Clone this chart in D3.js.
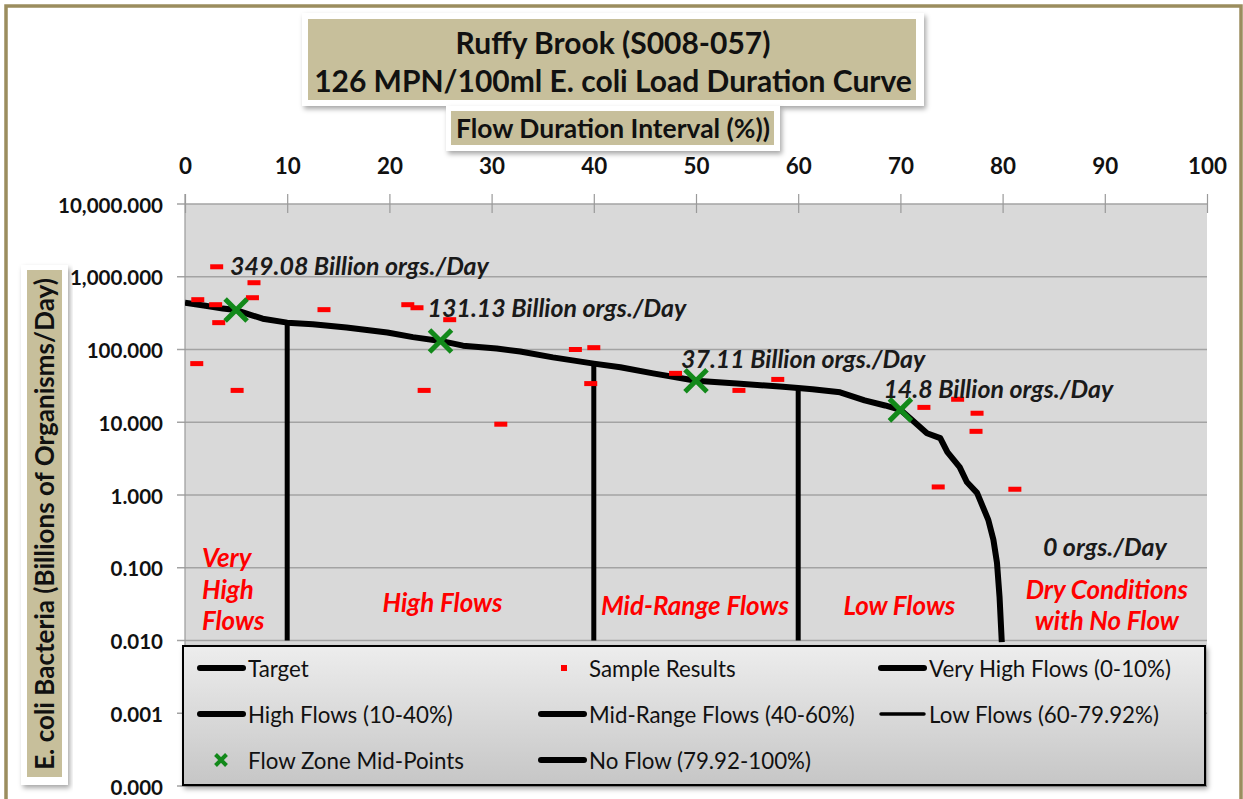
<!DOCTYPE html>
<html><head><meta charset="utf-8">
<script src="https://cdn.jsdelivr.net/npm/d3@7"></script>
<style>
body{margin:0;background:#fff;}
svg{display:block;}
text{font-family:Lato,"Open Sans","DejaVu Sans",sans-serif;}
</style>
</head><body>
<svg id="c" width="1243" height="799"></svg>
<script>
// ---------------- DATA ----------------
const titleLines = ["Ruffy Brook (S008-057)", "126 MPN/100ml E. coli Load Duration Curve"];
const xAxisTitle = "Flow Duration Interval (%))";
const yAxisTitle = "E. coli Bacteria (Billions of Organisms/Day)";
const xTicks = [0,10,20,30,40,50,60,70,80,90,100];
const yTicks = [0.0001,0.001,0.01,0.1,1,10,100,1000,10000];

// Target load duration curve (flow duration %, billions orgs/day)
const flowPct    = [0, 2, 3.7, 5, 6.4, 7.6, 10, 12.5, 15.8, 19.8, 22.3, 25, 27.2, 30.5, 32.8, 36, 40, 42.6, 45.8, 50, 54, 58.2, 60, 61.4, 64.1, 66.5, 68.5, 70, 71.2, 72.6, 73.9, 74.6, 75.8, 76.5, 77.5, 78.6, 79.1, 79.45, 79.7, 79.92];
const targetLoad = [440, 400, 365, 349.08, 300, 265, 234, 222, 200, 171, 148, 131.13, 113, 103, 94, 78, 64, 57, 47, 37.11, 34, 31, 29.5, 28.5, 25.8, 20, 17, 14.8, 10.6, 7.07, 6.04, 3.88, 2.42, 1.51, 1.07, 0.455, 0.242, 0.117, 0.04, 0.0095];

// Sample results
const samplePct  = [1.15, 1.25, 3.0, 3.1, 3.3, 5.1, 6.6, 6.75, 13.6, 21.8, 22.7, 23.4, 25.9, 30.9, 38.2, 39.7, 40.0, 48.0, 54.2, 58.0, 72.3, 73.7, 75.6, 77.4, 77.5, 81.2];
const sampleLoad = [64, 484, 413, 1371, 234, 27.4, 515, 828, 353, 413, 375, 27.4, 257, 9.4, 100, 34, 106, 47, 27.4, 38.8, 16, 1.29, 20.7, 7.5, 13.3, 1.2];

// Flow zone mid-points
const midPct    = [5, 25, 50, 70];
const midLoad   = [349.08, 131.13, 37.11, 14.8];
const midLabels = ["349.08 Billion orgs./Day", "131.13 Billion orgs./Day", "37.11 Billion orgs./Day", "14.8 Billion orgs./Day"];
const noFlowLabel = "0 orgs./Day";

// Flow zone boundaries (vertical lines)
const zoneBoundPct = [10, 40, 60];
const zoneBoundTop = [234, 64, 29.5];
const zoneFloor = 0.01;

// Zone labels
const zoneLabels = [["Very","High","Flows"], ["High Flows"], ["Mid-Range Flows"], ["Low Flows"], ["Dry Conditions","with No Flow"]];

// Legend
const legendNames = ["Target","Sample Results","Very High Flows (0-10%)","High Flows (10-40%)","Mid-Range Flows (40-60%)","Low Flows (60-79.92%)","Flow Zone Mid-Points","No Flow (79.92-100%)"];
const legendKinds = ["line","dash","line","line","line","thin","x","line"];

// ---------------- CHART ----------------
const svg = d3.select("#c");
const W = 1243, H = 799;
const P = {l:185, r:1207, t:204, b:786};
const x = d3.scaleLinear().domain([0,100]).range([P.l, P.r]);
const y = d3.scaleLog().domain([0.0001,10000]).range([P.b, P.t]);

const defs = svg.append("defs");
const sh = defs.append("filter").attr("id","sh").attr("x","-10%").attr("y","-20%").attr("width","120%").attr("height","150%");
sh.append("feDropShadow").attr("dx",2).attr("dy",3).attr("stdDeviation",2.5).attr("flood-color","#000").attr("flood-opacity",0.35);
const lg = defs.append("linearGradient").attr("id","lg").attr("x1",0).attr("y1",0).attr("x2",0).attr("y2",1);
lg.append("stop").attr("offset","0%").attr("stop-color","#ededed");
lg.append("stop").attr("offset","100%").attr("stop-color","#c6c6c6");
const clip = defs.append("clipPath").attr("id","pc");
clip.append("rect").attr("x",P.l).attr("y",P.t).attr("width",P.r-P.l).attr("height",P.b-P.t);

// measurement helper: returns font size so that text has target width
function sizeFor(txt, weight, style, target, base=20){
  const t = svg.append("text").attr("font-size",base).attr("font-weight",weight).attr("font-style",style).text(txt);
  const w = t.node().getComputedTextLength(); t.remove();
  return base*target/w;
}

// outer frame
svg.append("rect").attr("x",0).attr("y",0).attr("width",W).attr("height",H).attr("fill","#fff");
svg.append("rect").attr("x",6).attr("y",6).attr("width",1235).attr("height",H+20)
  .attr("fill","none").attr("stroke","#9b8d5e").attr("stroke-width",3.5);

// plot background
svg.append("rect").attr("x",P.l).attr("y",P.t).attr("width",P.r-P.l).attr("height",P.b-P.t).attr("fill","#d9d9d9");

// horizontal gridlines
svg.append("g").selectAll("line").data(yTicks).join("line")
  .attr("x1",P.l-8).attr("x2",P.r).attr("y1",d=>y(d)).attr("y2",d=>y(d))
  .attr("stroke","#a3a3a3").attr("stroke-width",1.5);
// left axis line
svg.append("line").attr("x1",P.l).attr("x2",P.l).attr("y1",P.t-10).attr("y2",P.b).attr("stroke","#9a9a9a").attr("stroke-width",1.2);

// top axis
const xa = d3.axisTop(x).tickValues(xTicks).tickSize(0).tickPadding(0).tickFormat(d3.format("d"));
const gx = svg.append("g").attr("transform",`translate(0,${P.t})`).call(xa);
gx.select(".domain").remove();
const xfs = sizeFor("100","bold","normal",39);
gx.selectAll(".tick text").attr("font-size",xfs).attr("font-weight","bold").attr("fill","#111")
  .attr("font-family",null).attr("dy",0).attr("y",-39).attr("dominant-baseline","central");
gx.selectAll(".tick").append("line").attr("y1",-10).attr("y2",9).attr("stroke","#9a9a9a").attr("stroke-width",1.2);

// left axis labels
const ya = d3.axisLeft(y).tickValues(yTicks).tickSize(0).tickPadding(0).tickFormat(d3.format(",.3f"));
const gy = svg.append("g").attr("transform",`translate(${P.l},0)`).call(ya);
gy.select(".domain").remove();
const yfs = sizeFor("10,000.000","bold","normal",105);
gy.selectAll(".tick text").attr("font-size",yfs).attr("font-weight","bold").attr("fill","#111")
  .attr("font-family",null).attr("x",-22).attr("dy",0).attr("dominant-baseline","central");

// zone boundary vertical lines
const vg = svg.append("g").attr("clip-path","url(#pc)");
vg.selectAll("line").data(zoneBoundPct).join("line")
  .attr("x1",d=>x(d)).attr("x2",d=>x(d)).attr("y1",(d,i)=>y(zoneBoundTop[i])).attr("y2",y(zoneFloor))
  .attr("stroke","#000").attr("stroke-width",5);

// target curve
const pts = flowPct.map((p,i)=>[p,targetLoad[i]]);
vg.append("path").datum(pts)
  .attr("d",d3.line().x(d=>x(d[0])).y(d=>y(d[1])))
  .attr("fill","none").attr("stroke","#000").attr("stroke-width",6).attr("stroke-linejoin","round");

// sample results
vg.append("g").selectAll("rect").data(samplePct).join("rect")
  .attr("x",d=>x(d)-6.5).attr("y",(d,i)=>y(sampleLoad[i])-2.5).attr("width",13).attr("height",5)
  .attr("fill","#ff0000");

// mid-points
const xMark = (s)=>`M${-s},${-s}L${s},${s}M${-s},${s}L${s},${-s}`;
svg.append("g").selectAll("path").data(midPct).join("path")
  .attr("transform",(d,i)=>`translate(${x(d)},${y(midLoad[i])})`)
  .attr("d",xMark(11)).attr("stroke","#12891a").attr("stroke-width",5).attr("fill","none");

// mid labels
const mfs = sizeFor(midLabels[0],"bold","italic",259);
const midOff = [[-6,-45],[-13,-34],[-15,-23],[-17,-22]];
svg.append("g").selectAll("text").data(midLabels).join("text")
  .attr("x",(d,i)=>x(midPct[i])+midOff[i][0]).attr("y",(d,i)=>y(midLoad[i])+midOff[i][1])
  .attr("font-size",mfs).attr("font-weight","bold").attr("font-style","italic").attr("fill","#1a1a1a")
  .attr("dominant-baseline","central").text(d=>d);
svg.append("text").attr("x",x(90)).attr("y",y(0.2)).attr("text-anchor","middle")
  .attr("font-size",mfs).attr("font-weight","bold").attr("font-style","italic").attr("fill","#1a1a1a")
  .attr("dominant-baseline","central").text(noFlowLabel);

// zone labels
const zfs = sizeFor("Mid-Range Flows","bold","italic",188);
const zonePos = [
  {x:x(1.66), anchor:"start", ys:[557,589,620]},
  {x:x(25.2), anchor:"middle", ys:[602]},
  {x:x(49.9), anchor:"middle", ys:[605]},
  {x:x(69.9), anchor:"middle", ys:[605]},
  {x:x(90.2), anchor:"middle", ys:[589,620]}
];
zoneLabels.forEach((lines,i)=>{
  lines.forEach((ln,j)=>{
    svg.append("text").attr("x",zonePos[i].x).attr("y",zonePos[i].ys[j]).attr("text-anchor",zonePos[i].anchor)
      .attr("font-size",zfs).attr("font-weight","bold").attr("font-style","italic").attr("fill","#ff0000")
      .attr("dominant-baseline","central").text(ln);
  });
});

// legend
const L = {x:183, y:646, w:1022, h:139};
svg.append("rect").attr("x",L.x).attr("y",L.y).attr("width",L.w).attr("height",L.h)
  .attr("fill","url(#lg)").attr("stroke","#000").attr("stroke-width",2).attr("filter","url(#sh)");
const lfs = sizeFor(legendNames[2],"normal","normal",242);
const colX = [197,538,878], rowY = [668,714,760];
const lgG = svg.append("g");
legendNames.forEach((name,i)=>{
  const cx = colX[i%3], cy = rowY[Math.floor(i/3)], k = legendKinds[i];
  if(k==="line"||k==="thin"){
    lgG.append("line").attr("x1",cx+3).attr("x2",cx+46).attr("y1",cy).attr("y2",cy)
      .attr("stroke","#000").attr("stroke-width",k==="thin"?3.5:6).attr("stroke-linecap","round");
  } else if(k==="dash"){
    lgG.append("rect").attr("x",cx+23).attr("y",cy-3).attr("width",6).attr("height",6).attr("fill","#ff0000");
  } else if(k==="x"){
    lgG.append("path").attr("transform",`translate(${cx+24},${cy})`).attr("d",xMark(5.5))
      .attr("stroke","#12891a").attr("stroke-width",4).attr("fill","none");
  }
  lgG.append("text").attr("x",cx+51).attr("y",cy).attr("font-size",lfs).attr("fill","#111")
    .attr("dominant-baseline","central").text(name);
});

// title box
svg.append("rect").attr("x",302).attr("y",13).attr("width",622).attr("height",93).attr("fill","#fff").attr("filter","url(#sh)");
svg.append("rect").attr("x",308).attr("y",19).attr("width",608).attr("height",81).attr("fill","#c7bf9b");
const tfs = sizeFor(titleLines[1],"bold","normal",598);
svg.selectAll(".tl").data(titleLines).join("text").attr("class","tl")
  .attr("x",613).attr("y",(d,i)=>42+i*38).attr("text-anchor","middle").attr("dominant-baseline","central")
  .attr("font-size",tfs).attr("font-weight","bold").attr("fill","#111").text(d=>d);

// x axis title box
svg.append("rect").attr("x",446).attr("y",106).attr("width",334).attr("height",45).attr("fill","#fff").attr("filter","url(#sh)");
svg.append("rect").attr("x",451).attr("y",111).attr("width",323).attr("height",34).attr("fill","#c7bf9b");
const afs = sizeFor(xAxisTitle,"bold","normal",314);
svg.append("text").attr("x",613).attr("y",128).attr("text-anchor","middle").attr("dominant-baseline","central")
  .attr("font-size",afs).attr("font-weight","bold").attr("fill","#111").text(xAxisTitle);

// y axis title box
svg.append("rect").attr("x",21).attr("y",265).attr("width",47).attr("height",520).attr("fill","#fff").attr("filter","url(#sh)");
svg.append("rect").attr("x",27).attr("y",270).attr("width",35).attr("height",507).attr("fill","#c7bf9b");
const yafs = sizeFor(yAxisTitle,"bold","normal",492);
svg.append("text").attr("transform","translate(44,524) rotate(-90)").attr("text-anchor","middle").attr("dominant-baseline","central")
  .attr("font-size",yafs).attr("font-weight","bold").attr("fill","#111").text(yAxisTitle);
</script>
</body></html>
